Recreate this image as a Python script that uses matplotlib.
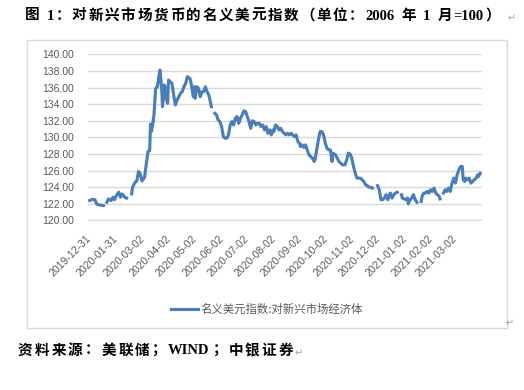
import re
import numpy as np
import pandas as pd
import matplotlib
matplotlib.use("Agg")
import matplotlib.pyplot as plt
from matplotlib.patches import Rectangle
from matplotlib.transforms import IdentityTransform

# values (None = gap in the series)
dates = [
    "2019-12-31", "2020-01-03", "2020-01-06", "2020-01-08", "2020-01-10", "2020-01-13", "2020-01-16", "2020-01-18",
    "2020-01-20", "2020-01-22", "2020-01-25", "2020-01-27", "2020-01-29", "2020-01-31", "2020-02-03", "2020-02-05",
    "2020-02-07", "2020-02-10", "2020-02-12", "2020-02-15", "2020-02-18", "2020-02-19", "2020-02-22", "2020-02-24",
    "2020-02-26", "2020-02-28", "2020-03-01", "2020-03-04", "2020-03-06", "2020-03-08", "2020-03-10", "2020-03-11",
    "2020-03-12", "2020-03-14", "2020-03-15", "2020-03-17", "2020-03-19", "2020-03-21", "2020-03-22", "2020-03-24",
    "2020-03-25", "2020-03-27", "2020-03-28", "2020-03-29", "2020-03-31", "2020-04-01", "2020-04-03", "2020-04-05",
    "2020-04-07", "2020-04-09", "2020-04-11", "2020-04-13", "2020-04-15", "2020-04-17", "2020-04-19", "2020-04-21",
    "2020-04-23", "2020-04-26", "2020-04-27", "2020-04-30", "2020-05-01", "2020-05-02", "2020-05-04", "2020-05-06",
    "2020-05-08", "2020-05-10", "2020-05-12", "2020-05-14", "2020-05-16", "2020-05-18", "2020-05-19", "2020-05-21",
    "2020-05-23", "2020-05-25", "2020-05-27", "2020-05-29", "2020-05-31", "2020-06-02", "2020-06-04", "2020-06-06",
    "2020-06-08", "2020-06-10", "2020-06-12", "2020-06-14", "2020-06-16", "2020-06-18", "2020-06-20", "2020-06-22",
    "2020-06-24", "2020-06-26", "2020-06-28", "2020-06-30", "2020-07-02", "2020-07-04", "2020-07-06", "2020-07-08",
    "2020-07-10", "2020-07-12", "2020-07-14", "2020-07-16", "2020-07-18", "2020-07-20", "2020-07-22", "2020-07-24",
    "2020-07-26", "2020-07-28", "2020-07-30", "2020-08-01", "2020-08-02", "2020-08-04", "2020-08-06", "2020-08-08",
    "2020-08-10", "2020-08-12", "2020-08-14", "2020-08-16", "2020-08-18", "2020-08-20", "2020-08-22", "2020-08-24",
    "2020-08-26", "2020-08-28", "2020-08-30", "2020-09-01", "2020-09-02", "2020-09-04", "2020-09-06", "2020-09-08",
    "2020-09-10", "2020-09-12", "2020-09-14", "2020-09-16", "2020-09-18", "2020-09-19", "2020-09-21", "2020-09-23",
    "2020-09-25", "2020-09-27", "2020-09-29", "2020-10-01", "2020-10-03", "2020-10-05", "2020-10-07", "2020-10-09",
    "2020-10-10", "2020-10-13", "2020-10-15", "2020-10-17", "2020-10-19", "2020-10-21", "2020-10-22", "2020-10-24",
    "2020-10-26", "2020-10-28", "2020-10-30", "2020-11-01", "2020-11-03", "2020-11-05", "2020-11-07", "2020-11-11",
    "2020-11-13", "2020-11-15", "2020-11-17", "2020-11-19", "2020-11-21", "2020-11-23", "2020-11-25", "2020-11-28",
    "2020-12-01", "2020-12-03", "2020-12-05", "2020-12-07", "2020-12-09", "2020-12-11", "2020-12-13", "2020-12-14",
    "2020-12-16", "2020-12-18", "2020-12-20", "2020-12-22", "2020-12-24", "2020-12-27", "2020-12-29", "2020-12-30",
    "2021-01-01", "2021-01-03", "2021-01-05", "2021-01-06", "2021-01-08", "2021-01-10", "2021-01-12", "2021-01-14",
    "2021-01-16", "2021-01-19", "2021-01-21", "2021-01-22", "2021-01-24", "2021-01-26", "2021-01-28", "2021-01-30",
    "2021-02-01", "2021-02-03", "2021-02-05", "2021-02-07", "2021-02-09", "2021-02-11", "2021-02-12", "2021-02-14",
    "2021-02-16", "2021-02-18", "2021-02-20", "2021-02-22", "2021-02-24", "2021-02-26", "2021-02-28", "2021-03-02",
    "2021-03-04", "2021-03-06", "2021-03-08", "2021-03-10", "2021-03-11", "2021-03-13", "2021-03-14", "2021-03-16",
    "2021-03-18", "2021-03-20", "2021-03-22", "2021-03-24", "2021-03-26", "2021-03-28", "2021-03-29", "2021-03-31",
]
values = [
    122.4, 122.55, 122.5, 122.0, 121.9, 121.85, 121.8, None,
    122.2, 122.6, 122.4, 122.8, 122.5, 123.0, 123.4, 122.8,
    123.2, 122.8, 122.7, None, 123.2, 124.0, 124.6, 124.75,
    125.9, 125.6, 124.75, 125.2, 126.75, 128.3, 128.4, 131.6,
    130.7, 131.9, 132.7, 135.9, 136.1, 137.5, 138.1, 135.9,
    133.7, 136.3, 136.1, 134.7, 134.1, 136.9, 136.7, 136.5,
    135.1, 133.9, 134.5, 134.9, 135.3, 135.5, 136.1, 136.5,
    137.3, 137.1, 136.7, 134.9, 136.1, 134.7, 136.1, 135.9,
    134.9, 135.5, 135.5, 136.1, 135.5, 135.1, 134.7, 133.7,
    None, 132.9, 132.7, 132.1, 131.9, 131.3, 130.1, 129.9,
    129.9, 130.3, 131.5, 131.9, 131.5, 132.3, 132.5, 131.7,
    132.3, 132.7, 133.2, 133.1, 132.5, 131.9, 131.1, 132.0,
    131.9, 131.5, 131.7, 131.7, 131.3, 131.5, 130.9, 131.3,
    130.5, 130.9, 130.3, 130.9, 130.7, 131.5, 131.3, 130.9,
    131.1, 130.7, 130.5, 130.3, 130.5, 130.3, 130.5, 130.3,
    130.1, 130.3, 129.5, 129.3, 128.9, 129.1, 128.8, 129.1,
    128.5, 127.9, 127.7, 127.5, 127.1, 127.3, 128.5, 129.7,
    130.7, 130.7, 130.3, 129.3, 128.7, 128.5, 128.5, 127.1,
    128.1, 127.9, 127.5, 127.1, 126.9, 126.7, 126.7, 126.7,
    127.3, 128.1, 128.0, 127.5, 126.5, 125.7, 125.1, 125.1,
    124.9, 124.7, 124.3, 124.2, 124.0, 124.0, 123.9, None,
    124.2, 123.7, 122.5, 122.5, 122.7, 123.1, 122.5, 122.9,
    123.3, 122.7, 123.1, 123.3, 123.4, None, 123.1, 122.7,
    122.6, 122.5, 122.7, 122.0, 122.5, 122.7, 123.1, 122.5,
    122.2, None, 122.3, 122.9, 123.3, 123.3, 123.5, 123.3,
    123.7, 123.5, 123.9, 123.3, 123.1, 122.9, 122.6, None,
    123.3, 123.7, 123.5, 123.9, 123.5, 124.5, 125.1, 124.5,
    125.5, 126.1, 126.5, 126.5, 124.9, 124.7, 125.1, 124.9,
    125.1, 124.5, 124.7, 124.9, 125.1, 125.5, 125.3, 125.7,
]
tick_dates = ["2019-12-31", "2020-01-31", "2020-03-02", "2020-04-02", "2020-05-02", "2020-06-02",
              "2020-07-02", "2020-08-02", "2020-09-02", "2020-10-02", "2020-11-02", "2020-12-02",
              "2021-01-02", "2021-02-02", "2021-03-02"]
series_name = "名义美元指数:对新兴市场经济体"
title = "图 1：对新兴市场货币的名义美元指数（单位：2006 年 1 月=100）"
source = "资料来源：美联储；WIND；中银证券"

W, H = 524, 390
fig = plt.figure(figsize=(W / 100, H / 100), dpi=100)
renderer = fig.canvas.get_renderer()

def fx(px):
    return px / W

def fy(py):
    return 1 - py / H

def spaced_text(x0, x1, ypx, s, **kw):
    # Word stretches the caption lines: spread CJK chars, keep latin runs together
    pieces = []
    for tok in re.findall(r"[A-Za-z0-9=]+| |.", s):
        t = fig.text(0, H - ypx, tok, transform=IdentityTransform(), va="center", ha="left", **kw)
        w = 3.5 if tok == " " else t.get_window_extent(renderer).width
        pieces.append((t, w))
    gap = (x1 - x0 - sum(w for _, w in pieces)) / (len(pieces) - 1)
    x = x0
    for t, w in pieces:
        t.set_x(x)
        x += w + gap

# chart frame like in the Word document
fig.patches.append(Rectangle((fx(27), fy(328)), fx(507) - fx(27), fy(40) - fy(328),
                             transform=fig.transFigure, fill=False, edgecolor="#d9d9d9", linewidth=1))

ax = fig.add_axes([fx(88), fy(220.5), fx(482) - fx(88), fy(54.3) - fy(220.5)])
x = pd.to_datetime(dates)
y = np.array([np.nan if v is None else v for v in values])
ax.plot(x, y, color="#4a7ebb", linewidth=2.25, label=series_name)

ax.set_ylim(120, 140)
ax.set_yticks(np.arange(120, 141, 2))
ax.set_yticklabels([f"{v:.2f}" for v in np.arange(120, 141, 2)])
ax.set_xlim(pd.Timestamp("2019-12-29"), pd.Timestamp("2021-04-02"))
ax.set_xticks(pd.to_datetime(tick_dates))
ax.set_xticklabels(tick_dates, rotation=45, ha="right", va="center", rotation_mode="anchor")
ax.grid(axis="y", color="#d9d9d9", linewidth=1)
ax.set_axisbelow(True)
for s in ax.spines.values():
    s.set_visible(False)
ax.tick_params(axis="y", length=0, pad=10, labelsize=7.5, labelcolor="#595959")
ax.tick_params(axis="x", length=0, pad=12, labelsize=7.5, labelcolor="#595959")
for lab in ax.get_xticklabels() + ax.get_yticklabels():
    lab.set_fontfamily("Liberation Sans")

leg = fig.legend(loc="center", bbox_to_anchor=(fx(267), fy(309)), frameon=False,
                 handlelength=2.4, handletextpad=0.2,
                 prop={"family": ["Noto Sans CJK SC"], "size": 8.2})
for t in leg.get_texts():
    t.set_color("#595959")

cjk_serif = ["Liberation Serif", "Noto Sans CJK SC"]
spaced_text(25, 500, 16, title, fontsize=10.5, fontweight="bold", family=cjk_serif)
spaced_text(18, 293, 351, source, fontsize=10.5, fontweight="bold", family=cjk_serif)

# paragraph marks
for px, py in [(512, 18), (510, 323), (299, 353)]:
    fig.text(fx(px), fy(py), "↵", fontsize=7, color="#a0a0a0", family="DejaVu Sans",
             ha="center", va="center")

fig.savefig("out.png", dpi=100)
